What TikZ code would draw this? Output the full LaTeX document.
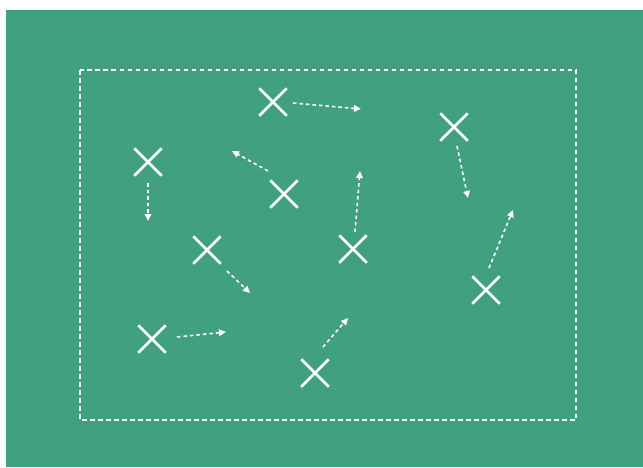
\documentclass[tikz,border=0pt]{standalone}
\usetikzlibrary{shapes.misc,arrows.meta}
\definecolor{field}{RGB}{64,160,128}
\tikzset{
  player/.style={cross out,draw=white,line width=2.5pt,minimum size=25pt,inner sep=0pt},
  run/.style={draw=white,line width=1.6pt,dash pattern=on 3.5pt off 3pt,-{Triangle[length=7pt,width=6.5pt]}},
  zone/.style={draw=white,line width=1.5pt,dash pattern=on 4.5pt off 3.5pt}
}
\begin{document}
\begin{tikzpicture}[x=1pt,y=-1pt]
\useasboundingbox (0,0) rectangle (643,467);
\fill[white] (0,0) rectangle (643,467);
\fill[field] (6,10) rectangle (643,467);
\draw[zone] (80,70) rectangle (576,420);
\node[player] (p1) at (273,102) {};
\node[player] (p2) at (148,162) {};
\node[player] (p3) at (284,194) {};
\node[player] (p4) at (207,250) {};
\node[player] (p5) at (353,249) {};
\node[player] (p6) at (454,127) {};
\node[player] (p7) at (486,290) {};
\node[player] (p8) at (152,339) {};
\node[player] (p9) at (315,373) {};
\coordinate (a1s) at (293,103); \coordinate (a1e) at (361,109);
\coordinate (a2s) at (148,183); \coordinate (a2e) at (148,221);
\coordinate (a3s) at (268,171); \coordinate (a3e) at (232,151);
\coordinate (a4s) at (227,271); \coordinate (a4e) at (250,293);
\coordinate (a5s) at (355,232); \coordinate (a5e) at (360,171);
\coordinate (a6s) at (457,146); \coordinate (a6e) at (468,198);
\coordinate (a7s) at (489,268); \coordinate (a7e) at (513,210);
\coordinate (a8s) at (177,337); \coordinate (a8e) at (226,332);
\coordinate (a9s) at (323,347); \coordinate (a9e) at (348,318);
\foreach \i in {1,...,9} \draw[run] (a\i s) -- (a\i e);
\end{tikzpicture}
\end{document}
